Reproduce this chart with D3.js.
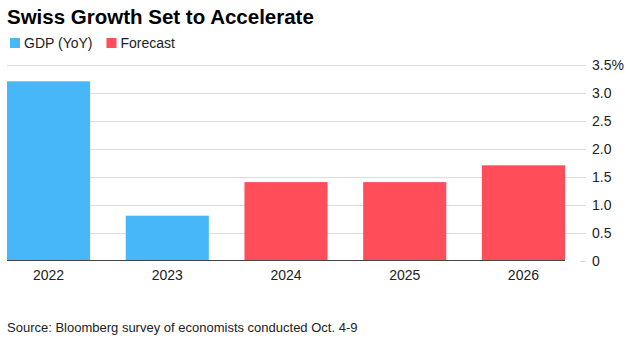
<!DOCTYPE html>
<html lang="en">
<head>
    <meta charset="UTF-8">
    <title>Swiss Growth Set to Accelerate</title>
    <style>
        body {
            margin: 0;
            font-family: "Liberation Sans", Arial, sans-serif;
            background: #fff;
        }
        .title {
            font-size: 20.5px;
            font-weight: bold;
            fill: #000;
        }
        .legend-text, .tick-label, .x-label {
            font-size: 14px;
            fill: #222;
        }
        .source {
            font-size: 13px;
            fill: #222;
        }
    </style>
</head>
<body>
    <svg width="630" height="340"></svg>
    <script src="https://d3js.org/d3.v7.min.js"></script>
    <script>
        const width = 630;
        const height = 340;

        const years = ["2022", "2023", "2024", "2025", "2026"];
        const growth = [3.2, 0.8, 1.4, 1.4, 1.7];
        const kinds = ["GDP (YoY)", "GDP (YoY)", "Forecast", "Forecast", "Forecast"];
        const yTicks = [0, 0.5, 1.0, 1.5, 2.0, 2.5, 3.0, 3.5];
        const legendItems = ["GDP (YoY)", "Forecast"];

        const color = d3.scaleOrdinal()
            .domain(legendItems)
            .range(["#47b7fa", "#ff4e5a"]);

        const svg = d3.select("svg")
            .attr("width", width)
            .attr("height", height);

        const x = d3.scaleBand()
            .domain(years)
            .range([7, 565])
            .paddingInner(0.3)
            .paddingOuter(0);

        const y = d3.scaleLinear()
            .domain([0, 3.5])
            .range([260.5, 64.5]);

        // title + legend
        svg.append("text")
            .attr("class", "title")
            .attr("x", 7)
            .attr("y", 24)
            .text("Swiss Growth Set to Accelerate");

        let lx = 10;
        legendItems.forEach(name => {
            svg.append("rect")
                .attr("x", lx)
                .attr("y", 38)
                .attr("width", 10)
                .attr("height", 10)
                .attr("fill", color(name));
            const t = svg.append("text")
                .attr("class", "legend-text")
                .attr("x", lx + 14)
                .attr("y", 48)
                .text(name);
            lx += 14 + t.node().getComputedTextLength() + 14;
        });

        // gridlines (zero line only shows as a short tick at the right)
        svg.selectAll(".grid")
            .data(yTicks)
            .enter().append("line")
            .attr("class", "grid")
            .attr("x1", d => d === 0 ? 580 : 7)
            .attr("x2", 586)
            .attr("y1", d => Math.round(y(d)) + 0.5)
            .attr("y2", d => Math.round(y(d)) + 0.5)
            .attr("stroke", "#dcdcdc")
            .attr("stroke-width", 1);

        svg.selectAll(".tick-label")
            .data(yTicks)
            .enter().append("text")
            .attr("class", "tick-label")
            .attr("x", 592)
            .attr("y", d => y(d) + 5)
            .text(d => d === 0 ? "0" : d === 3.5 ? "3.5%" : d3.format(".1f")(d));

        // bars
        svg.selectAll(".bar")
            .data(years)
            .enter().append("rect")
            .attr("class", "bar")
            .attr("x", d => x(d))
            .attr("width", x.bandwidth())
            .attr("y", (d, i) => y(growth[i]))
            .attr("height", (d, i) => y(0) - y(growth[i]))
            .attr("fill", (d, i) => color(kinds[i]));

        // baseline
        svg.append("line")
            .attr("x1", 7)
            .attr("x2", 565)
            .attr("y1", 260.5)
            .attr("y2", 260.5)
            .attr("stroke", "#444")
            .attr("stroke-width", 1);

        svg.selectAll(".x-label")
            .data(years)
            .enter().append("text")
            .attr("class", "x-label")
            .attr("x", d => x(d) + x.bandwidth() / 2)
            .attr("y", 280)
            .attr("text-anchor", "middle")
            .text(d => d);

        svg.append("text")
            .attr("class", "source")
            .attr("x", 7)
            .attr("y", 332)
            .text("Source: Bloomberg survey of economists conducted Oct. 4-9");
    </script>
</body>
</html>
